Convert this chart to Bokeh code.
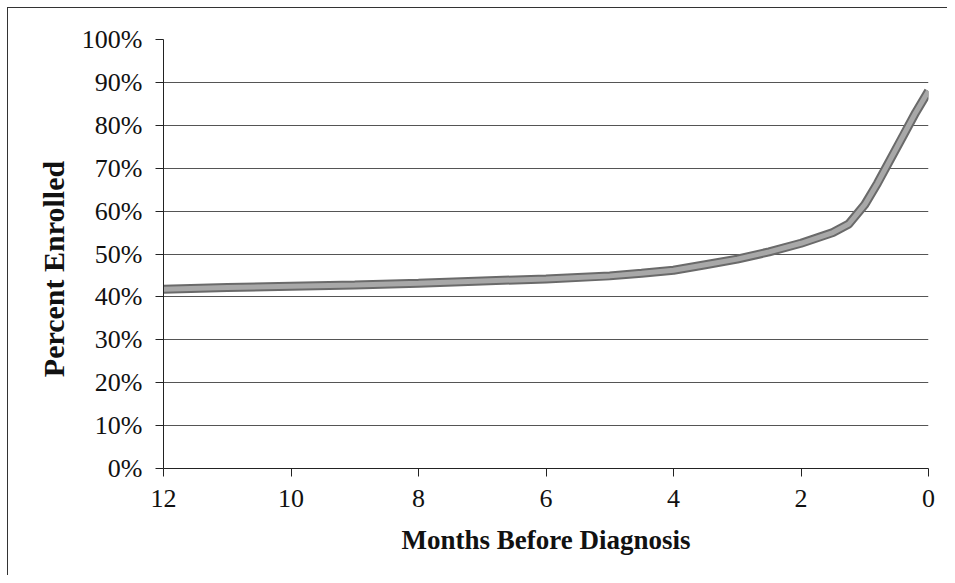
from bokeh.plotting import figure
from bokeh.models import Range1d, FixedTicker, NumeralTickFormatter
from bokeh.embed import file_html
from bokeh.resources import INLINE

months = [12, 11, 10, 9, 8, 7, 6, 5, 4.5, 4, 3.5, 3, 2.5, 2, 1.5, 1.25, 1, 0.8, 0.6, 0.4, 0.2, 0]
enrolled = [0.418, 0.422, 0.425, 0.428, 0.432, 0.437, 0.442, 0.449, 0.455, 0.462, 0.475, 0.488,
            0.505, 0.525, 0.550, 0.570, 0.615, 0.665, 0.720, 0.775, 0.830, 0.880]
x_ticks = [12, 10, 8, 6, 4, 2, 0]
y_ticks = [0, 0.1, 0.2, 0.3, 0.4, 0.5, 0.6, 0.7, 0.8, 0.9, 1.0]

FONT = "Liberation Serif"

p = figure(width=940, height=568, output_backend="svg", toolbar_location=None,
           x_range=Range1d(12, 0), y_range=Range1d(0, 1.0),
           min_border_left=155, min_border_top=31, min_border_right=20, min_border_bottom=108)
p.styles = {"border-top": "1px solid #333", "border-left": "1px solid #333",
            "margin-left": "7px", "margin-top": "7px"}
p.outline_line_color = None
p.background_fill_color = "white"
p.border_fill_color = "white"

p.xgrid.grid_line_color = None
p.ygrid.grid_line_color = "#555555"
p.ygrid.grid_line_width = 1
p.yaxis.ticker = FixedTicker(ticks=y_ticks)
p.xaxis.ticker = FixedTicker(ticks=x_ticks)
p.yaxis.formatter = NumeralTickFormatter(format="0%")

for ax in (p.xaxis, p.yaxis):
    ax.axis_line_color = "#222222"
    ax.major_tick_line_color = "#222222"
    ax.major_tick_out = 8
    ax.major_tick_in = 0
    ax.minor_tick_line_color = None
    ax.major_label_text_font = FONT
    ax.major_label_text_font_size = "26px"
    ax.major_label_text_color = "#111111"
    ax.axis_label_text_font = FONT
    ax.axis_label_text_font_style = "bold"
    ax.axis_label_text_color = "#111111"

p.xaxis.axis_label_text_font_size = "27px"
p.yaxis.axis_label_text_font_size = "30px"
p.xaxis.axis_label = "Months Before Diagnosis"
p.yaxis.axis_label = "Percent Enrolled\u00a0\u00a0\u00a0\u00a0"
p.yaxis.major_label_standoff = 13
p.xaxis.major_label_standoff = 13
p.yaxis.axis_label_standoff = 9
p.xaxis.axis_label_standoff = 15

p.line(months, enrolled, line_color="#6a6a6a", line_width=9)
p.line(months, enrolled, line_color="#a8a8a8", line_width=5)

open("out.html", "w").write(file_html(p, INLINE))
